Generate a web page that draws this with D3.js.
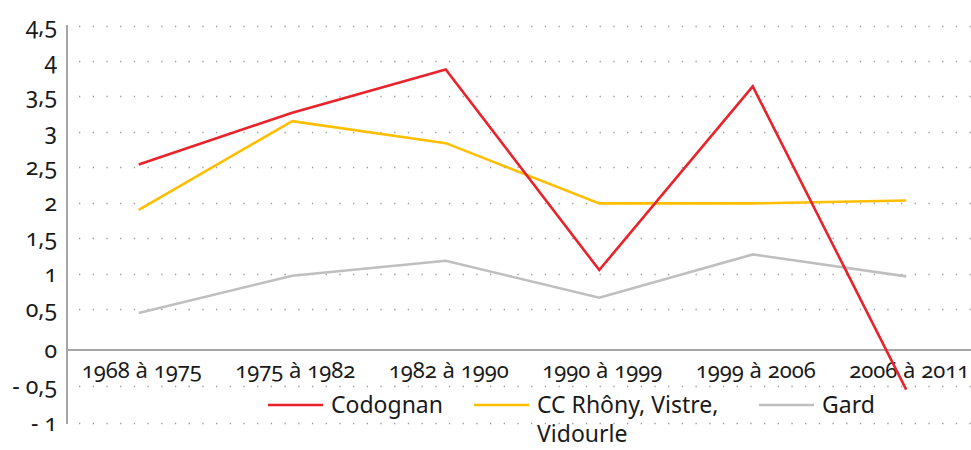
<!DOCTYPE html>
<html>
<head>
<meta charset="utf-8">
<script src="https://cdn.jsdelivr.net/npm/d3@7"></script>
<style>
  body { margin: 0; background: #fff; }
  text { font-family: "Noto Sans", sans-serif; fill: #1a1a1a; font-variant-numeric: oldstyle-nums; }
</style>
</head>
<body>
<div id="chart"></div>
<script>
const width = 971;
const height = 450;

// periods on the x axis
const periods = ["1968 à 1975", "1975 à 1982", "1982 à 1990", "1990 à 1999", "1999 à 2006", "2006 à 2011"];

// annual growth rate, %
const codognan = [2.54, 3.27, 3.88, 1.05, 3.64, -0.55];
const ccRhony = [1.90, 3.15, 2.84, 1.99, 1.99, 2.03];
const gard = [0.45, 0.97, 1.18, 0.66, 1.27, 0.96];

const yTicks = [-1, -0.5, 0, 0.5, 1, 1.5, 2, 2.5, 3, 3.5, 4, 4.5];
const seriesNames = ["Codognan", "CC Rhôny, Vistre, Vidourle", "Gard"];
const seriesColors = ["#e8232b", "#ffbf00", "#bfbfbf"];

const x = d3.scalePoint().domain(periods).range([62, 983]).padding(0.5);
// the picture's zero line sits a little lower than the upper gridline spacing
const y = d3.scaleLinear()
	.domain([-1, -0.5, 0, 0.5, 4.5])
	.range([423, 386, 350, 309, 25.5]);

const svg = d3.select("#chart").append("svg")
	.attr("width", width)
	.attr("height", height);

// dotted gridlines
svg.append("g")
	.selectAll("line")
	.data(yTicks.filter(d => d !== 0))
	.enter().append("line")
		.attr("x1", 79)
		.attr("x2", width)
		.attr("y1", d => Math.round(y(d)) + 0.5)
		.attr("y2", d => Math.round(y(d)) + 0.5)
		.attr("stroke", "#9a9a9a")
		.attr("stroke-width", 1.3)
		.attr("stroke-dasharray", "1.3 12.4");

// y tick labels
svg.append("g")
	.selectAll("text")
	.data(yTicks)
	.enter().append("text")
		.attr("x", 57)
		.attr("y", d => y(d))
		.attr("dy", "0.35em")
		.attr("text-anchor", "end")
		.style("font-size", "23px")
		.text(d => (d < 0 ? "- " : "") + String(Math.abs(d)).replace(".", ","));

// axes
svg.append("line")
	.attr("x1", 67).attr("x2", 67)
	.attr("y1", 25).attr("y2", 424)
	.attr("stroke", "#a6a6a6").attr("stroke-width", 2);
svg.append("line")
	.attr("x1", 66).attr("x2", width)
	.attr("y1", y(0)).attr("y2", y(0))
	.attr("stroke", "#a6a6a6").attr("stroke-width", 2);

// x labels
svg.append("g")
	.selectAll("text")
	.data(periods)
	.enter().append("text")
		.attr("x", d => x(d) + 3)
		.attr("y", 370)
		.attr("dy", "0.35em")
		.attr("text-anchor", "middle")
		.style("font-size", "22px")
		.text(d => d);

// lines
const line = d3.line()
	.x((d, i) => x(periods[i]))
	.y(d => y(d));

svg.append("g")
	.selectAll("path")
	.data([gard, ccRhony, codognan])
	.enter().append("path")
		.attr("d", line)
		.attr("fill", "none")
		.attr("stroke", (d, i) => seriesColors[2 - i])
		.attr("stroke-width", 2.6)
		.attr("stroke-linejoin", "miter");

// legend
const legendX = [268, 474, 759];
const legend = svg.append("g");
seriesNames.forEach((name, i) => {
	legend.append("line")
		.attr("x1", legendX[i]).attr("x2", legendX[i] + 55)
		.attr("y1", 405).attr("y2", 405)
		.attr("stroke", seriesColors[i]).attr("stroke-width", 2.6);
	const t = legend.append("text")
		.attr("x", legendX[i] + 63)
		.attr("y", 405)
		.attr("dy", "0.35em")
		.style("font-size", "23px");
	if (i === 1) {
		t.append("tspan").text("CC Rhôny, Vistre,");
		t.append("tspan").attr("x", legendX[i] + 63).attr("dy", 29).text("Vidourle");
	} else {
		t.text(name);
	}
});
</script>
</body>
</html>
